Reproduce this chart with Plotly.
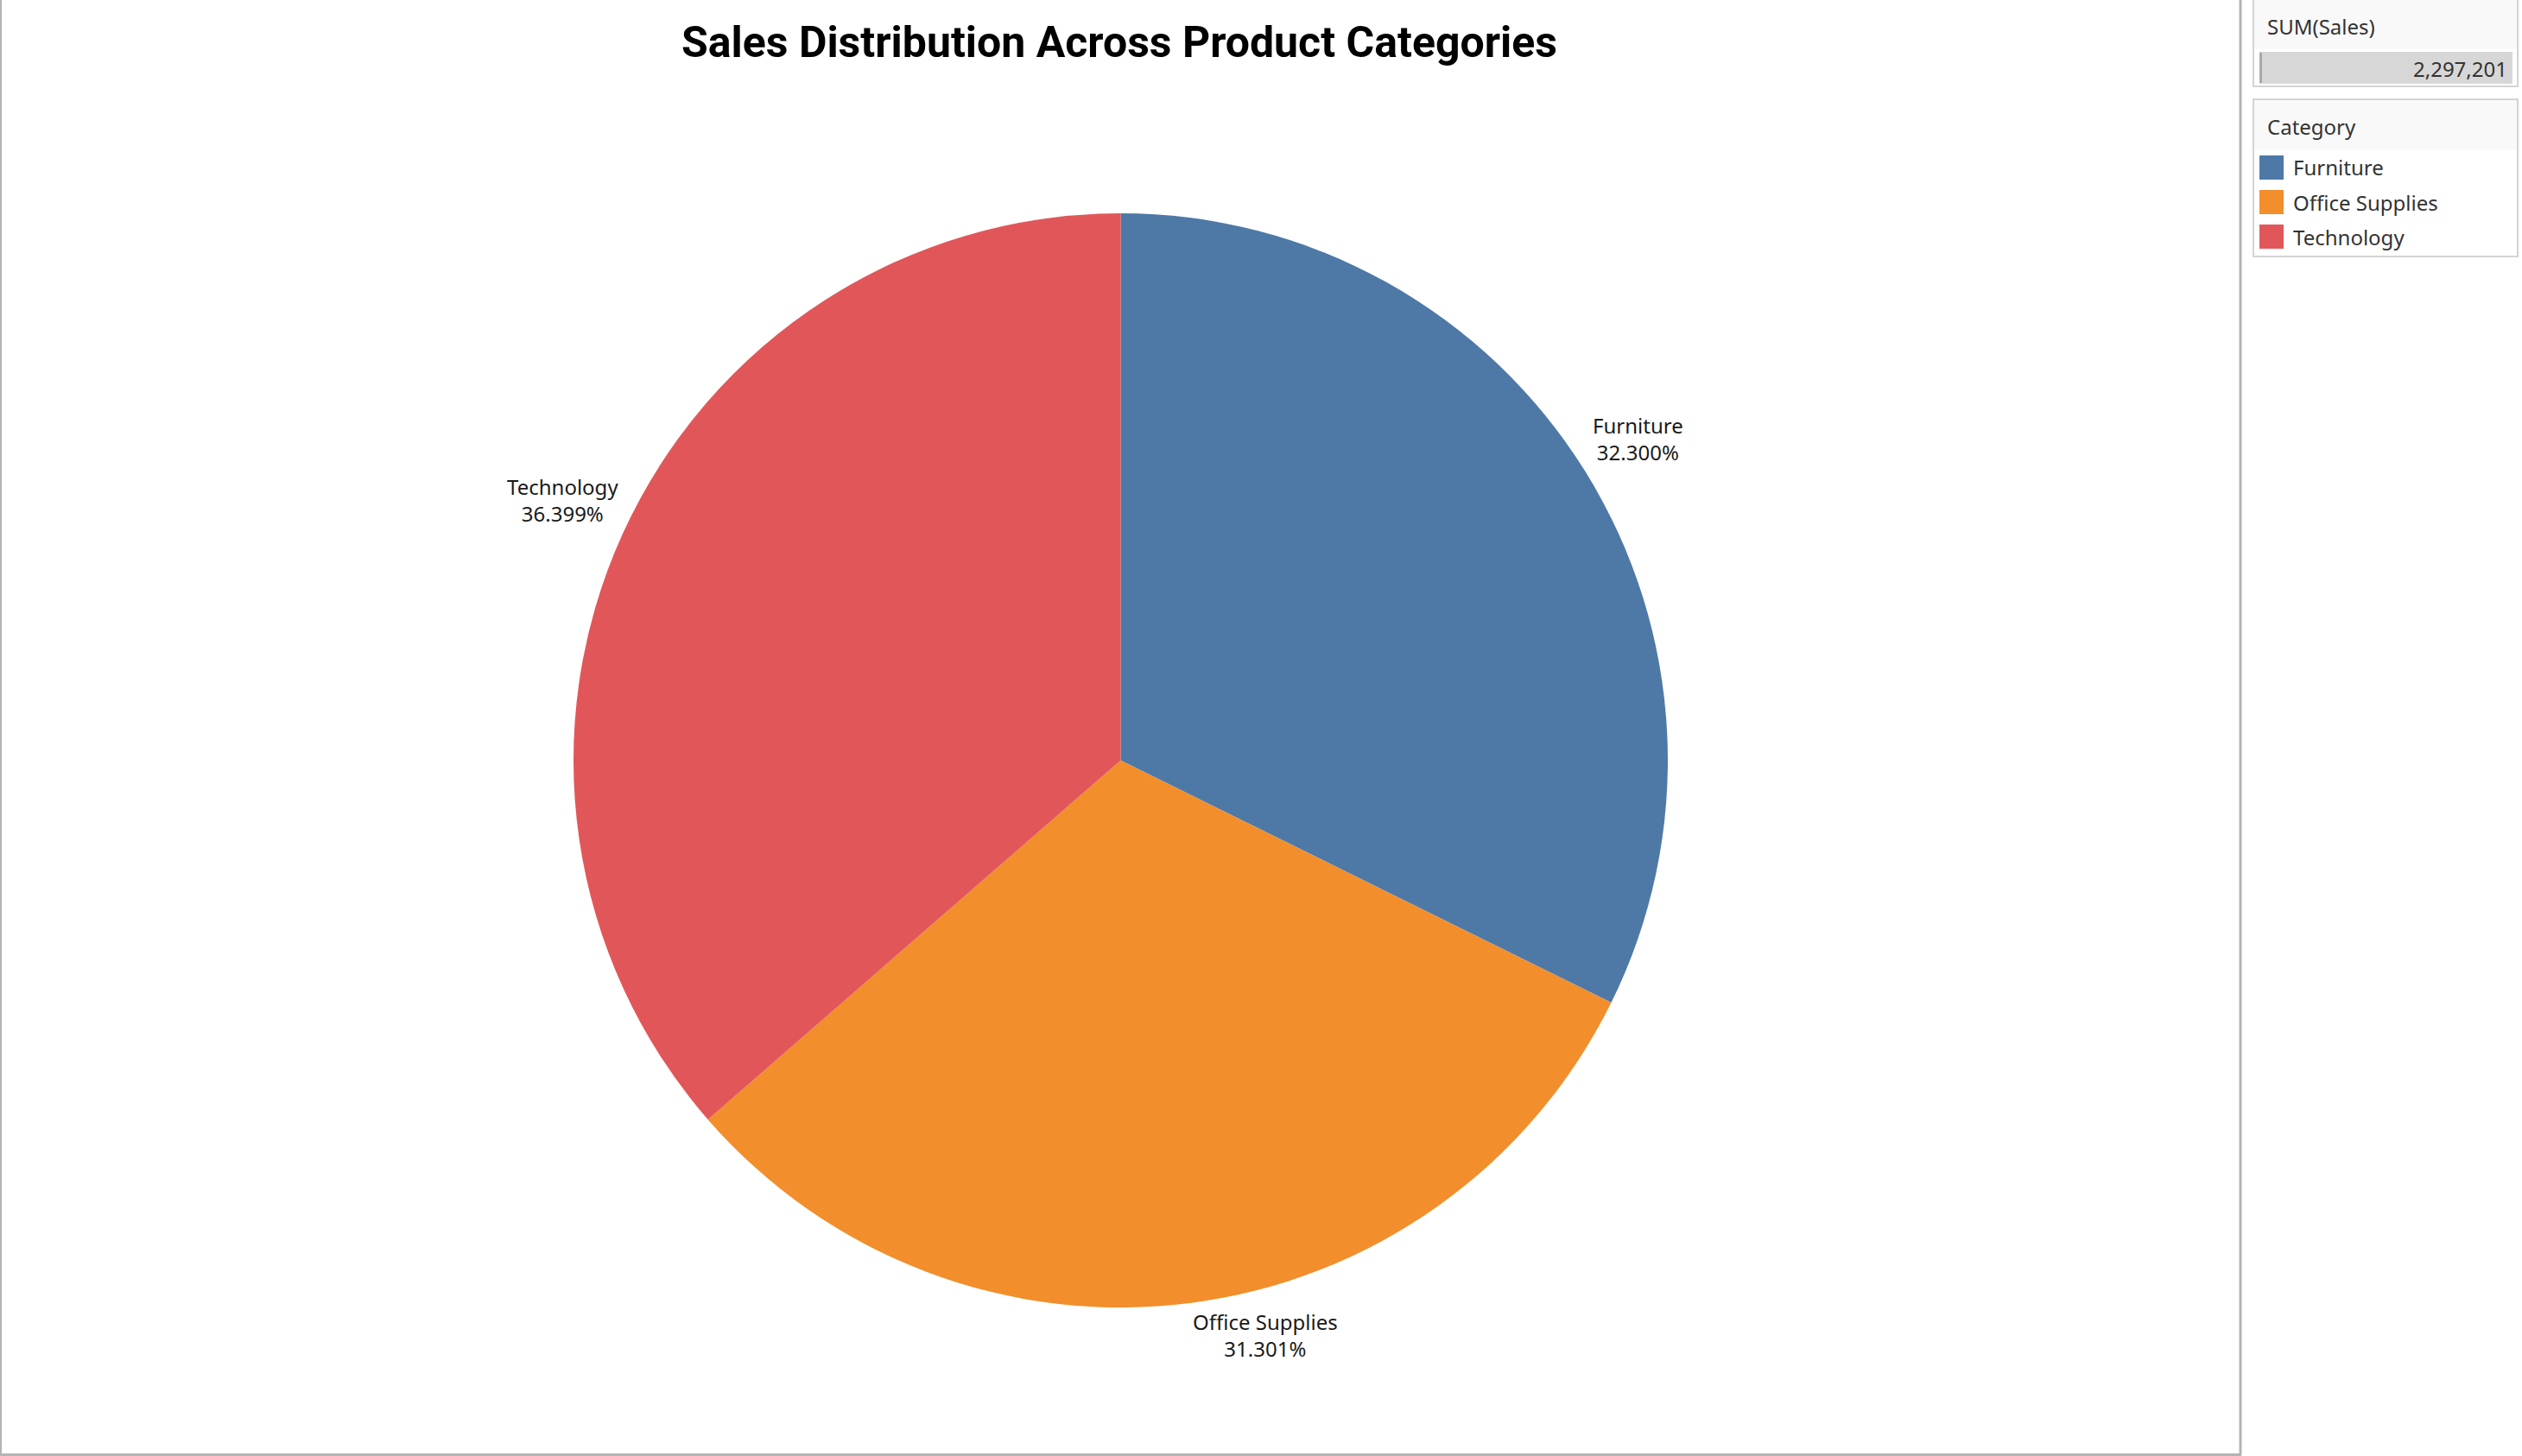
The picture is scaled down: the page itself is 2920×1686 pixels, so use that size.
import math
import plotly.graph_objects as go

# ---- data ----
categories = ["Furniture", "Office Supplies", "Technology"]
sales = [741999.80, 719047.03, 836154.03]
colors = ["#4e79a7", "#f28e2b", "#e15759"]
title_text = "Sales Distribution Across Product Categories"
size_legend_title = "SUM(Sales)"
color_legend_title = "Category"

W, H = 2920, 1686
CX, CY, R = 1297.5, 880.5, 633.5   # pie centre / radius in pixels
LABEL_FONT = 24
FONT = "Noto Sans"
# small manual nudges of the slice labels (pixels), as the original tool does
label_nudge = {"Office Supplies": (79, -16), "Technology": (0, -7)}


def px(x):
    return x / W


def py(y):
    return 1 - y / H


total = sum(sales)
fig = go.Figure(go.Pie(
    labels=categories, values=sales, sort=False, direction="clockwise",
    rotation=0, marker=dict(colors=colors, line=dict(width=0)),
    textinfo="none", showlegend=False,
    domain=dict(x=[px(CX - R), px(CX + R)], y=[py(CY + R), py(CY - R)]),
))

annotations = []
shapes = []

# slice labels, placed just outside the slice mid-angle
cum = 0.0
for cat, val in zip(categories, sales):
    frac = val / total
    mid = (cum + frac / 2) * 2 * math.pi
    cum += frac
    dx, dy = math.sin(mid), -math.cos(mid)
    pct = f"{frac * 100:.3f}%"
    hw = 0.5 * 0.5 * LABEL_FONT * max(len(cat), len(pct))
    hh = 34
    dist = R + 8 + abs(dx) * hw + abs(dy) * hh
    nx, ny = label_nudge.get(cat, (0, 0))
    lx, ly = CX + dx * dist + nx, CY + dy * dist + ny
    annotations.append(dict(
        x=px(lx), y=py(ly), xref="paper", yref="paper", showarrow=False,
        text=f"{cat}<br>{pct}", align="center", xanchor="center", yanchor="middle",
        font=dict(family=FONT, size=LABEL_FONT, color="#1a1a1a"),
    ))

# title
annotations.append(dict(
    x=px(1296), y=py(49), xref="paper", yref="paper", showarrow=False,
    text=f"<b>{title_text}</b>", xanchor="center", yanchor="middle",
    font=dict(family="Roboto", size=50, color="#000000"),
))

# worksheet border (left, right, bottom)
grey = "#b4b4b4"
shapes += [
    dict(type="line", xref="paper", yref="paper", x0=px(1), x1=px(1), y0=py(0), y1=py(1685), line=dict(color=grey, width=2)),
    dict(type="line", xref="paper", yref="paper", x0=px(2594), x1=px(2594), y0=py(0), y1=py(1685), line=dict(color=grey, width=3)),
    dict(type="line", xref="paper", yref="paper", x0=px(0), x1=px(2595), y0=py(1684.5), y1=py(1684.5), line=dict(color=grey, width=3)),
]

# size legend box
box_line = "#d4d4d4"
shapes += [
    dict(type="rect", xref="paper", yref="paper", x0=px(2609), x1=px(2915), y0=py(0), y1=py(57),
         fillcolor="#f9f9f9", line=dict(width=0)),
    dict(type="rect", xref="paper", yref="paper", x0=px(2609), x1=px(2915), y0=py(-2), y1=py(100),
         fillcolor="rgba(0,0,0,0)", line=dict(color=box_line, width=2)),
    dict(type="rect", xref="paper", yref="paper", x0=px(2616), x1=px(2909), y0=py(60), y1=py(97),
         fillcolor="#d7d7d7", line=dict(width=0)),
    dict(type="rect", xref="paper", yref="paper", x0=px(2616), x1=px(2619), y0=py(61), y1=py(96),
         fillcolor="#a9a9a9", line=dict(width=0)),
]
annotations.append(dict(x=px(2623), y=py(30), xref="paper", yref="paper", showarrow=False,
                        text=size_legend_title, xanchor="left", yanchor="middle",
                        font=dict(family=FONT, size=24, color="#333333")))
annotations.append(dict(x=px(2905), y=py(79), xref="paper", yref="paper", showarrow=False,
                        text=f"{total:,.0f}", xanchor="right", yanchor="middle",
                        font=dict(family=FONT, size=24, color="#333333")))

# colour legend box
shapes += [
    dict(type="rect", xref="paper", yref="paper", x0=px(2609), x1=px(2915), y0=py(116), y1=py(173),
         fillcolor="#f9f9f9", line=dict(width=0)),
    dict(type="rect", xref="paper", yref="paper", x0=px(2609), x1=px(2915), y0=py(115), y1=py(297),
         fillcolor="rgba(0,0,0,0)", line=dict(color=box_line, width=2)),
]
annotations.append(dict(x=px(2623), y=py(146), xref="paper", yref="paper", showarrow=False,
                        text=color_legend_title, xanchor="left", yanchor="middle",
                        font=dict(family=FONT, size=24, color="#333333")))
for i, (cat, col) in enumerate(zip(categories, colors)):
    yc = 194 + 40 * i
    shapes.append(dict(type="rect", xref="paper", yref="paper", x0=px(2616), x1=px(2644),
                       y0=py(yc + 14), y1=py(yc - 14), fillcolor=col, line=dict(width=0)))
    annotations.append(dict(x=px(2653), y=py(yc), xref="paper", yref="paper", showarrow=False,
                            text=cat, xanchor="left", yanchor="middle",
                            font=dict(family=FONT, size=24, color="#333333")))

fig.update_layout(
    width=W, height=H, margin=dict(l=0, r=0, t=0, b=0),
    paper_bgcolor="white", plot_bgcolor="white",
    annotations=annotations, shapes=shapes, showlegend=False,
)
fig.write_html(
    "out.html",
    config={"displayModeBar": False},
    post_script="document.body.style.margin='0';document.body.style.overflow='hidden';",
)
